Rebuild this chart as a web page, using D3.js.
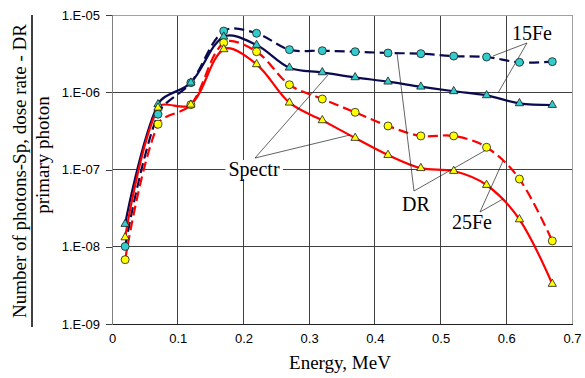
<!DOCTYPE html>
<html>
<head>
<meta charset="utf-8">
<script src="https://cdn.jsdelivr.net/npm/d3@7"></script>
<style>
  html, body { margin: 0; padding: 0; background: #fff; }
  svg { display: block; }
</style>
</head>
<body>
<svg id="chart" width="585" height="378"></svg>
<script>
// Photon energy, MeV
const energy = [0.02, 0.07, 0.12, 0.17, 0.22, 0.27, 0.32, 0.37, 0.42, 0.47, 0.52, 0.57, 0.62, 0.67];

// 15 cm Fe: dose rate (DR) and spectrum (Spectr), per primary photon
const fe15DR     = [1.01e-8, 5.2e-7, 1.33e-6, 6.2e-6, 5.8e-6, 3.56e-6, 3.45e-6, 3.35e-6, 3.22e-6, 3.16e-6, 2.94e-6, 2.86e-6, 2.44e-6, 2.49e-6];
const fe15Spectr = [1.97e-8, 6.98e-7, 1.33e-6, 5.24e-6, 4.09e-6, 2.08e-6, 1.81e-6, 1.56e-6, 1.37e-6, 1.18e-6, 1.03e-6, 9.12e-7, 7.19e-7, 6.84e-7];

// 25 cm Fe
const fe25DR     = [6.8e-9, 3.85e-7, 6.9e-7, 4.38e-6, 3.35e-6, 1.25e-6, 8.18e-7, 5.5e-7, 3.66e-7, 2.72e-7, 2.72e-7, 1.94e-7, 7.53e-8, 1.19e-8];
const fe25Spectr = [1.32e-8, 6.3e-7, 6.9e-7, 3.6e-6, 2.3e-6, 7.33e-7, 4.33e-7, 2.56e-7, 1.54e-7, 1.04e-7, 9.57e-8, 6.3e-8, 2.26e-8, 3.3e-9];

const xTicks = [0, 0.1, 0.2, 0.3, 0.4, 0.5, 0.6, 0.7];
const yTicks = [1e-9, 1e-8, 1e-7, 1e-6, 1e-5];
const yTickLabels = ["1.E-09", "1.E-08", "1.E-07", "1.E-06", "1.E-05"];

const svg = d3.select("#chart");
const plot = { left: 112, right: 572, top: 15, bottom: 324 };

const x = d3.scaleLinear().domain([0, 0.7]).range([plot.left, plot.right]);
const y = d3.scaleLog().domain([1e-9, 1e-5]).range([plot.bottom, plot.top]);

// Smoothed line: cubic Bezier segments whose tangent at each point follows
// its two neighbours, split in proportion to the adjacent segment lengths.
function SmoothCurve(context) { this._context = context; }
SmoothCurve.prototype = {
  areaStart() { this._line = 0; },
  areaEnd() { this._line = NaN; },
  lineStart() { this._pts = []; },
  point(px, py) { this._pts.push([+px, +py]); },
  lineEnd() {
    const p = this._pts, c = this._context, n = p.length;
    if (!n) return;
    c.moveTo(p[0][0], p[0][1]);
    if (n === 1) return;
    const k = 1 / 3;
    const outC = [], inC = [];
    for (let i = 0; i < n; i++) {
      if (i === 0 || i === n - 1) { outC[i] = p[i]; inC[i] = p[i]; continue; }
      const tx = p[i + 1][0] - p[i - 1][0], ty = p[i + 1][1] - p[i - 1][1];
      const d1 = Math.hypot(p[i][0] - p[i - 1][0], p[i][1] - p[i - 1][1]);
      const d2 = Math.hypot(p[i + 1][0] - p[i][0], p[i + 1][1] - p[i][1]);
      const s = d1 + d2 || 1;
      inC[i] = [p[i][0] - tx * k * d1 / s, p[i][1] - ty * k * d1 / s];
      outC[i] = [p[i][0] + tx * k * d2 / s, p[i][1] + ty * k * d2 / s];
    }
    for (let i = 0; i < n - 1; i++) {
      c.bezierCurveTo(outC[i][0], outC[i][1], inC[i + 1][0], inC[i + 1][1], p[i + 1][0], p[i + 1][1]);
    }
  }
};
const curveSmooth = ctx => new SmoothCurve(ctx);

// grid
const grid = svg.append("g");
grid.selectAll("line.v").data(xTicks.slice(1, -1)).join("line")
  .attr("x1", d => x(d)).attr("x2", d => x(d))
  .attr("y1", plot.top).attr("y2", plot.bottom)
  .attr("stroke", "#404040").attr("stroke-width", 1).attr("shape-rendering", "crispEdges");
grid.selectAll("line.h").data(yTicks.slice(1, -1)).join("line")
  .attr("x1", plot.left).attr("x2", plot.right)
  .attr("y1", d => y(d)).attr("y2", d => y(d))
  .attr("stroke", "#404040").attr("stroke-width", 1).attr("shape-rendering", "crispEdges");

// frame: light top/right, axes darker
svg.append("path")
  .attr("d", `M${plot.left},${plot.top}H${plot.right}V${plot.bottom}`)
  .attr("fill", "none").attr("stroke", "#a0a0a0").attr("stroke-width", 1).attr("shape-rendering", "crispEdges");

// axes
const xAxis = d3.axisBottom(x).tickValues(xTicks).tickSize(0).tickPadding(10)
  .tickFormat(d => d === 0 ? "0" : d3.format(".1f")(d));
const gx = svg.append("g").attr("transform", `translate(0,${plot.bottom})`).call(xAxis);
gx.select(".domain").attr("stroke", "#202020").attr("shape-rendering", "crispEdges");
gx.selectAll("text").attr("font-family", "Liberation Sans, Arial, sans-serif").attr("font-size", 13).attr("fill", "#000");

const yAxis = d3.axisLeft(y).tickValues(yTicks).tickSize(6).tickPadding(6)
  .tickFormat((d, i) => yTickLabels[i]);
const gy = svg.append("g").attr("transform", `translate(${plot.left},0)`).call(yAxis);
gy.select(".domain").attr("stroke", "#808080").attr("shape-rendering", "crispEdges");
gy.selectAll(".tick line").attr("stroke", "#404040").attr("shape-rendering", "crispEdges");
gy.selectAll("text").attr("font-family", "Liberation Sans, Arial, sans-serif").attr("font-size", 13).attr("fill", "#000");

// series
const series = [
  { values: fe15DR,     line: "#0a0a50", dash: "10,5", marker: "circle",   fill: "#33cccc" },
  { values: fe15Spectr, line: "#0a0a50", dash: null,   marker: "triangle", fill: "#33cccc" },
  { values: fe25DR,     line: "#ff0000", dash: "10,5", marker: "circle",   fill: "#ffff00" },
  { values: fe25Spectr, line: "#ff0000", dash: null,   marker: "triangle", fill: "#ffff00" }
];

const lineGen = d3.line()
  .x((d, i) => x(energy[i]))
  .y(d => y(d))
  .curve(curveSmooth);

const linesG = svg.append("g");
series.forEach(s => {
  linesG.append("path")
    .attr("d", lineGen(s.values))
    .attr("fill", "none")
    .attr("stroke", s.line)
    .attr("stroke-width", 2.2)
    .attr("stroke-dasharray", s.dash);
});

// leader lines for annotations
const leaders = [
  [[527, 43], [493, 56]], [[527, 43], [498, 93]],
  [[255, 158], [328, 75]], [[255, 158], [350, 135]],
  [[414, 191], [397, 53]], [[414, 191], [486, 150]],
  [[480, 212], [503, 161]], [[480, 212], [503, 199]]
];
svg.append("g").selectAll("line").data(leaders).join("line")
  .attr("x1", d => d[0][0]).attr("y1", d => d[0][1])
  .attr("x2", d => d[1][0]).attr("y2", d => d[1][1])
  .attr("stroke", "#202020").attr("stroke-width", 0.7);

// markers
const markG = svg.append("g");
series.forEach(s => {
  const g = markG.append("g");
  if (s.marker === "circle") {
    g.selectAll("circle").data(s.values).join("circle")
      .attr("cx", (d, i) => x(energy[i])).attr("cy", d => y(d)).attr("r", 4)
      .attr("fill", s.fill).attr("stroke", "#1a1a1a").attr("stroke-width", 0.8);
  } else {
    const tri = d3.symbol().type(d3.symbolTriangle).size(30);
    g.selectAll("path").data(s.values).join("path")
      .attr("d", tri)
      .attr("transform", (d, i) => `translate(${x(energy[i])},${y(d)})`)
      .attr("fill", s.fill).attr("stroke", "#1a1a1a").attr("stroke-width", 0.8);
  }
});

// annotations with white boxes
const notes = [
  { text: "15Fe",   x: 532, y: 40 },
  { text: "Spectr", x: 254, y: 176 },
  { text: "DR",     x: 416, y: 211 },
  { text: "25Fe",   x: 472, y: 229 }
];
const noteG = svg.append("g");
notes.forEach(n => {
  const t = noteG.append("text")
    .attr("x", n.x).attr("y", n.y).attr("text-anchor", "middle")
    .attr("font-family", "Liberation Serif, Times New Roman, serif").attr("font-size", 20)
    .attr("fill", "#000").text(n.text);
  const b = t.node().getBBox();
  noteG.insert("rect", () => t.node())
    .attr("x", b.x - 3).attr("y", b.y + 2).attr("width", b.width + 6).attr("height", b.height - 4)
    .attr("fill", "#fff");
});

// axis titles
svg.append("text")
  .attr("x", (plot.left + plot.right) / 2 - 2).attr("y", 369).attr("text-anchor", "middle")
  .attr("font-family", "Liberation Serif, Times New Roman, serif").attr("font-size", 19)
  .attr("fill", "#000").text("Energy, MeV");

const yTitle = svg.append("g").attr("transform", "translate(0,171) rotate(-90)");
yTitle.append("text")
  .attr("x", 0).attr("y", 26).attr("text-anchor", "middle")
  .attr("font-family", "Liberation Serif, Times New Roman, serif").attr("font-size", 19)
  .attr("fill", "#000").text("Number of photons-Sp, dose rate - DR");
yTitle.append("line")
  .attr("x1", -156).attr("x2", 156).attr("y1", 32).attr("y2", 32)
  .attr("stroke", "#000").attr("stroke-width", 1.5);
yTitle.append("text")
  .attr("x", 16).attr("y", 49).attr("text-anchor", "middle")
  .attr("font-family", "Liberation Serif, Times New Roman, serif").attr("font-size", 19)
  .attr("fill", "#000").text("primary photon");
</script>
</body>
</html>
